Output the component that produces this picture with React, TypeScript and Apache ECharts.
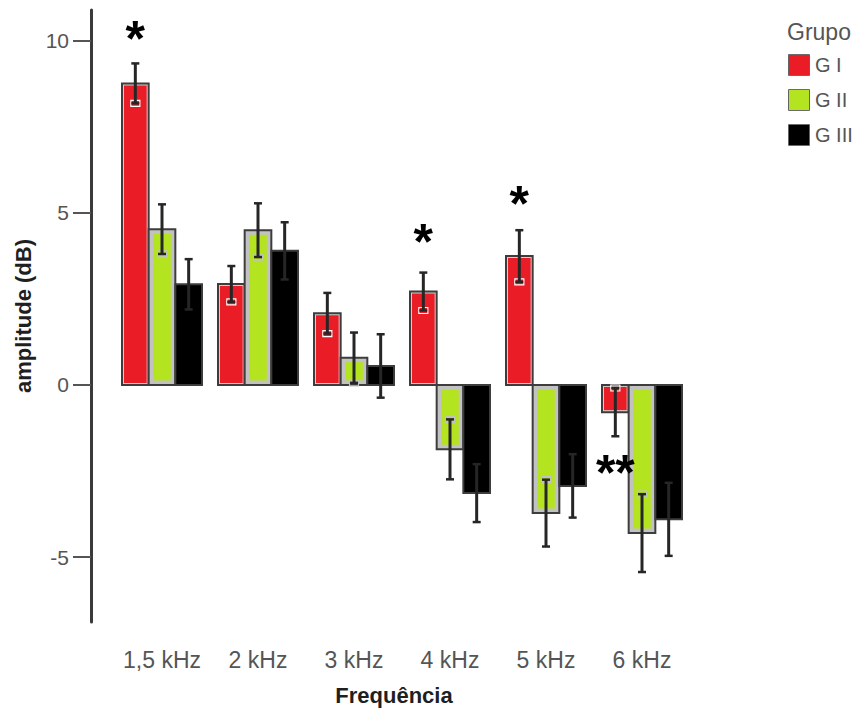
import React, { useEffect, useRef } from "react";
import * as echarts from "echarts";

// Frequencies on the x axis
const categories = ["1,5 kHz", "2 kHz", "3 kHz", "4 kHz", "5 kHz", "6 kHz"];

// Mean amplitude (dB) and error half-width per group
const gIMeans = [8.75, 2.93, 2.08, 2.71, 3.74, -0.79];
const gIErr = [0.58, 0.52, 0.59, 0.55, 0.75, 0.7];
const gIIMeans = [4.52, 4.49, 0.79, -1.87, -3.72, -4.3];
const gIIErr = [0.72, 0.78, 0.73, 0.87, 0.97, 1.13];
const gIIIMeans = [2.92, 3.89, 0.55, -3.14, -2.93, -3.9];
const gIIIErr = [0.73, 0.83, 0.92, 0.84, 0.92, 1.06];

// Y axis ticks
const yTicks = [-5, 0, 5, 10];

// Significance marks: category index, group column, value level, text
const starCats = [0, 3, 4, 5];
const starGroups = [0, 0, 0, 0];
const starValues = [10.21, 4.32, 5.43, -2.38];
const starTexts = ["*", "*", "*", "**"];

const groupNames = ["G I", "G II", "G III"];

const FONT = '"Liberation Sans", Arial, sans-serif';
const OUTLINE = "#3d3d3d";
const ERR = "#262626";
const GROUP_FRACTION = 80 / 96;
const GROUPS = 3;

const LEGEND_LEFT = 789;
const LEGEND_TOP = 55;
const SWATCH = 20;
const SWATCH_GAP = 15;

const styles = [
  { fill: "#ea1d27", frame: "#cfcfcf", inset: 2, halo: "#ffffff" },
  { fill: "#b4e31f", frame: "#c2c2c2", inset: 4.5, halo: "#c2c2c2" },
  { fill: "#000000", frame: "#000000", inset: 0, halo: "" },
];

function barRenderer(g: number) {
  const st = styles[g];
  return (params: any, api: any) => {
    const cat = api.value(0);
    const mean = api.value(1);
    const err = api.value(2);
    const band = api.size([1, 0])[0];
    const groupW = band * GROUP_FRACTION;
    const barW = groupW / GROUPS;
    const base = api.coord([cat, 0]);
    const end = api.coord([cat, mean]);
    const x = base[0] - groupW / 2 + g * barW;
    const y = Math.min(base[1], end[1]);
    const h = Math.abs(base[1] - end[1]);
    const cx = x + barW / 2;
    const yHi = api.coord([cat, mean + err])[1];
    const yLo = api.coord([cat, mean - err])[1];
    const innerEnd = mean >= 0 ? yLo : yHi;
    const children: any[] = [
      {
        type: "rect",
        shape: { x, y, width: barW, height: h },
        style: { fill: st.frame, stroke: OUTLINE, lineWidth: 2 },
      },
    ];
    if (st.inset > 0) {
      children.push({
        type: "rect",
        shape: {
          x: x + st.inset,
          y: y + st.inset,
          width: Math.max(0, barW - 2 * st.inset),
          height: Math.max(0, h - 2 * st.inset),
        },
        style: { fill: st.fill },
      });
    }
    if (st.halo) {
      children.push({
        type: "rect",
        shape: { x: cx - 4.5, y: innerEnd - 3, width: 9, height: 6 },
        style: { fill: "none", stroke: st.halo, lineWidth: 1.2 },
      });
    }
    children.push(
      {
        type: "line",
        shape: { x1: cx, y1: yHi, x2: cx, y2: yLo },
        style: { stroke: ERR, lineWidth: 3 },
      },
      {
        type: "line",
        shape: { x1: cx - 4, y1: yHi, x2: cx + 4, y2: yHi },
        style: { stroke: ERR, lineWidth: 2.5 },
      },
      {
        type: "line",
        shape: { x1: cx - 4, y1: yLo, x2: cx + 4, y2: yLo },
        style: { stroke: ERR, lineWidth: 2.5 },
      }
    );
    return { type: "group", children };
  };
}

function starRenderer(params: any, api: any) {
  const cat = api.value(0);
  const val = api.value(1);
  const g = api.value(2);
  const band = api.size([1, 0])[0];
  const groupW = band * GROUP_FRACTION;
  const barW = groupW / GROUPS;
  const base = api.coord([cat, val]);
  const x = base[0] - groupW / 2 + (g + 0.5) * barW;
  return {
    type: "text",
    x,
    y: base[1] + 6,
    style: {
      text: starTexts[params.dataIndex],
      fontFamily: FONT,
      fontWeight: "bold",
      fontSize: 50,
      fill: "#000",
      align: "center",
      verticalAlign: "middle",
    },
  };
}

const groupMeans = [gIMeans, gIIMeans, gIIIMeans];
const groupErrs = [gIErr, gIIErr, gIIIErr];

export default function App() {
  const ref = useRef<HTMLDivElement>(null);

  useEffect(() => {
    if (!ref.current) return;
    const chart = echarts.init(ref.current, undefined, { renderer: "svg" });

    const barSeries = groupNames.map((name, g) => ({
      name,
      type: "custom",
      renderItem: barRenderer(g),
      encode: { x: 0, y: 1 },
      itemStyle: { color: styles[g].fill },
      data: categories.map((_, i) => [i, groupMeans[g][i], groupErrs[g][i]]),
      z: 2,
    }));

    // framed swatches drawn over the legend icons, in the same style as the bars
    const swatches = groupNames.map((_, i) => {
      const st = styles[i];
      const children: any[] = [
        {
          type: "rect",
          shape: { x: 0, y: 0, width: SWATCH, height: SWATCH },
          style: { fill: st.frame, stroke: OUTLINE, lineWidth: 1.6 },
        },
      ];
      if (st.inset > 0) {
        children.push({
          type: "rect",
          shape: {
            x: st.inset,
            y: st.inset,
            width: SWATCH - 2 * st.inset,
            height: SWATCH - 2 * st.inset,
          },
          style: { fill: st.fill },
        });
      }
      return {
        type: "group",
        x: LEGEND_LEFT,
        y: LEGEND_TOP + i * (SWATCH + SWATCH_GAP),
        z: 10,
        children,
      };
    });

    chart.setOption({
      animation: false,
      backgroundColor: "#ffffff",
      title: {
        text: "Grupo",
        left: 787,
        top: 20,
        padding: 0,
        textStyle: { fontFamily: FONT, fontSize: 23, fontWeight: "normal", color: "#555" },
      },
      legend: {
        orient: "vertical",
        left: LEGEND_LEFT,
        top: LEGEND_TOP,
        padding: 0,
        itemWidth: SWATCH,
        itemHeight: SWATCH,
        itemGap: SWATCH_GAP,
        selectedMode: false,
        textStyle: {
          fontFamily: FONT,
          fontSize: 20,
          lineHeight: 20,
          height: 20,
          color: "#555",
          padding: [0, 0, 0, 1],
        },
        data: groupNames.map((name, i) => ({
          name,
          icon: "rect",
          itemStyle: { color: styles[i].fill, borderWidth: 0 },
        })),
      },
      graphic: swatches,
      grid: { left: 114, right: 171, top: 10, bottom: 91, containLabel: false },
      xAxis: {
        type: "category",
        data: categories,
        axisLine: { show: false },
        axisTick: { show: false },
        axisLabel: { interval: 0, fontFamily: FONT, fontSize: 23, color: "#555", margin: 26 },
        name: "Frequência",
        nameLocation: "middle",
        nameGap: 62,
        nameTextStyle: {
          fontFamily: FONT,
          fontSize: 22,
          fontWeight: "bold",
          color: "#1f1f1f",
          padding: [0, 16, 0, 0],
        },
      },
      yAxis: {
        type: "value",
        min: -6.88,
        max: 10.88,
        offset: 23,
        axisLine: { show: true, lineStyle: { color: "#3a3a3a", width: 3 } },
        axisTick: { show: true, length: 18, customValues: yTicks, lineStyle: { color: "#555", width: 2 } },
        axisLabel: { customValues: yTicks, fontFamily: FONT, fontSize: 21, color: "#555", margin: 22 },
        splitLine: { show: false },
        name: "amplitude (dB)",
        nameLocation: "middle",
        nameGap: 54,
        nameTextStyle: { fontFamily: FONT, fontSize: 22, fontWeight: "bold", color: "#1f1f1f" },
      },
      series: [
        ...barSeries,
        {
          name: "stars",
          type: "custom",
          renderItem: starRenderer,
          encode: { x: 0, y: 1 },
          data: starCats.map((c, i) => [c, starValues[i], starGroups[i]]),
          z: 3,
          silent: true,
        },
      ],
    });

    return () => chart.dispose();
  }, []);

  return (
    <div
      ref={ref}
      style={{ position: "fixed", left: 0, top: 0, width: 861, height: 713, background: "#fff" }}
    />
  );
}
